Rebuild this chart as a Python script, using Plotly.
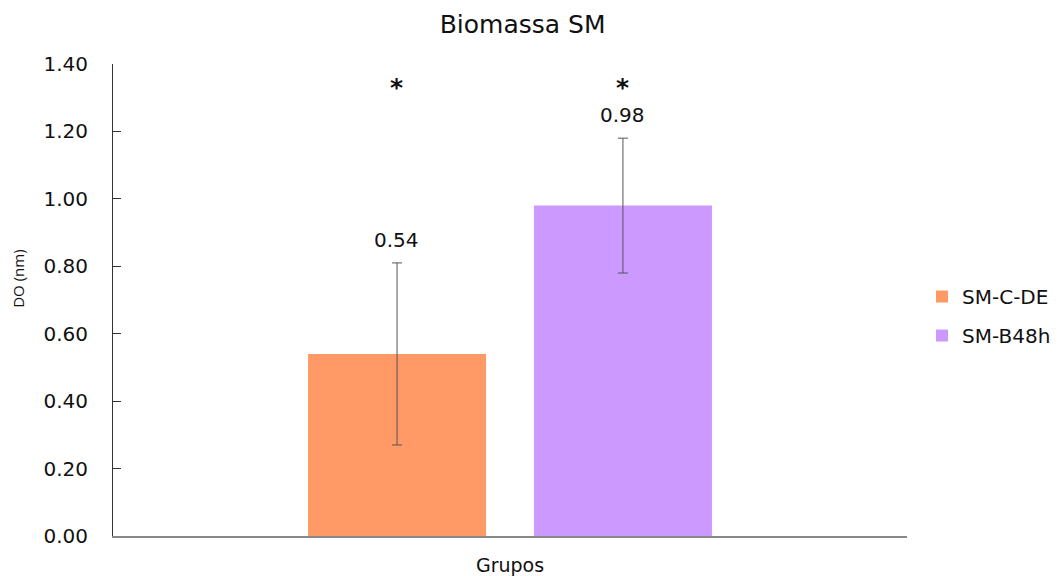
import plotly.graph_objects as go

series_names = ["SM-C-DE", "SM-B48h"]
values = [0.54, 0.98]
errors = [0.27, 0.20]
colors = ["#FF9966", "#CC99FF"]
value_labels = ["0.54", "0.98"]
star_labels = ["*", "*"]
category = ["Grupos"]
y_ticks = [0, 0.2, 0.4, 0.6, 0.8, 1.0, 1.2, 1.4]

FONT = "DejaVu Sans"
TXT = "#111111"
W, H = 1052, 568  # page body adds an 8px offset

fig = go.Figure()
for name, v, e, c in zip(series_names, values, errors, colors):
    fig.add_trace(go.Bar(
        x=category, y=[v], name=name, legendgroup=name,
        marker=dict(color=c, line=dict(width=0)),
        error_y=dict(type="data", array=[e], visible=True,
                     color="#555555", thickness=1, width=5),
    ))

shifts = [-114, 112]
annotations = []
for v, e, lab, star, sh in zip(values, errors, value_labels, star_labels, shifts):
    annotations.append(dict(x=category[0], y=v + e, xref="x", yref="y",
                            text=lab, showarrow=False, xshift=sh, yshift=9,
                            yanchor="bottom", font=dict(family=FONT, size=20, color=TXT)))
    annotations.append(dict(x=category[0], y=1.33, xref="x", yref="y",
                            text="<b>" + star + "</b>", showarrow=False, xshift=sh,
                            yanchor="middle", font=dict(family=FONT, size=25, color=TXT)))

fig.update_layout(
    width=W, height=H,
    paper_bgcolor="white", plot_bgcolor="white",
    margin=dict(l=105, r=153, t=56, b=40),
    barmode="group", bargap=0.431, bargroupgap=0.212,
    title=dict(text="Biomassa SM", x=(105 + 899) / 2 / W + 0.012, xanchor="center",
               yref="container", y=1 - 16 / H, yanchor="middle",
               font=dict(family=FONT, size=25, color=TXT)),
    font=dict(family=FONT, color=TXT),
    xaxis=dict(showticklabels=False, ticks="", showline=True, linecolor="#888888",
               linewidth=1.5, showgrid=False, zeroline=False, automargin=False,
               title=dict(text="Grupos", font=dict(family=FONT, size=19, color=TXT), standoff=22)),
    yaxis=dict(range=[0, 1.4], tickvals=y_ticks, tickformat=".2f",
               ticks="inside", ticklen=8, tickcolor="#333333",
               showline=True, linecolor="#333333", linewidth=1,
               showgrid=False, zeroline=False, automargin=False,
               ticklabelstandoff=20,
               tickfont=dict(family=FONT, size=20, color=TXT),
               title=dict(text="&nbsp;" * 11 + "DO (nm)",
                          font=dict(family="Open Sans", size=15, color=TXT), standoff=19)),
    legend=dict(xref="container", yref="container", x=914 / W, y=0.4577,
                xanchor="left", yanchor="middle",
                font=dict(family=FONT, size=20, color=TXT),
                itemsizing="constant", tracegroupgap=10),
    annotations=annotations,
    showlegend=True,
)

fig.write_html("out.html")
